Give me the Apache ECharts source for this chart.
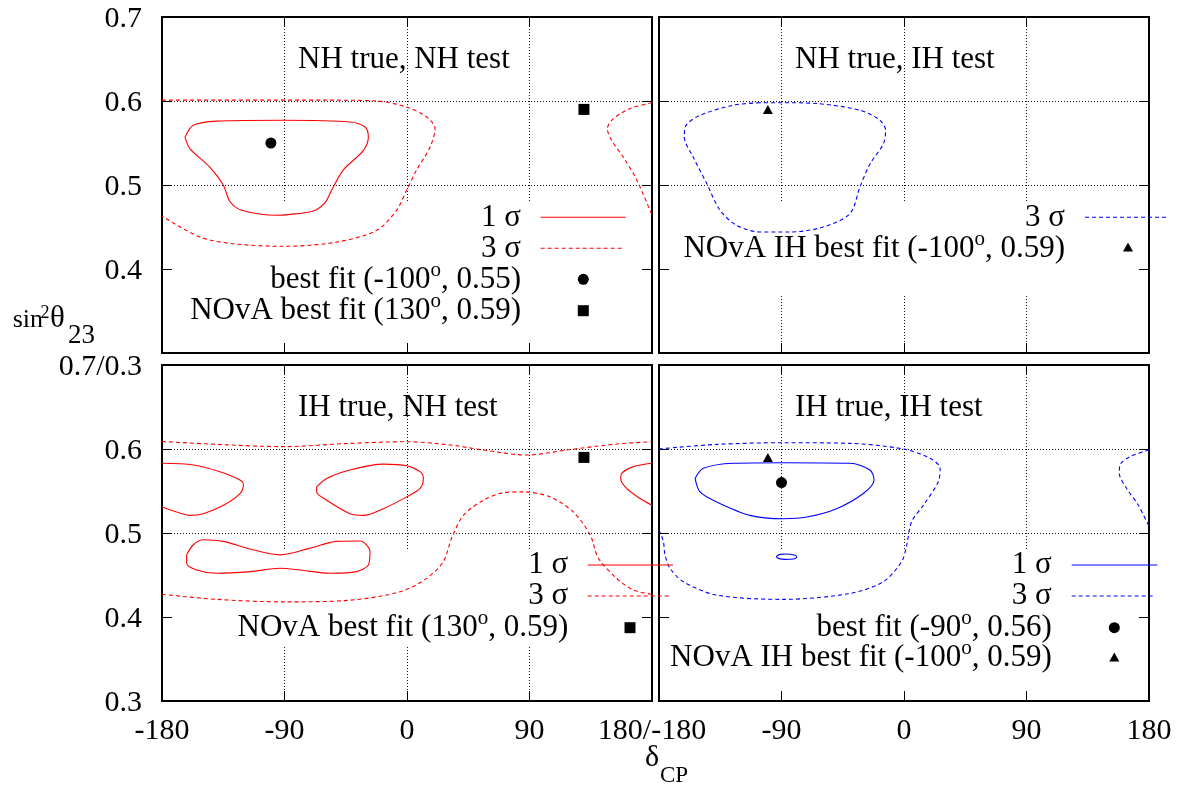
<!DOCTYPE html>
<html><head><meta charset="utf-8">
<script src="https://cdn.jsdelivr.net/npm/echarts@6/dist/echarts.min.js"></script>
<style>html,body{margin:0;padding:0;background:#fff}#c{width:1178px;height:786px}</style>
</head><body><div id="c"></div>
<script>
// ---------------- data ----------------
const xTicks = [-180, -90, 0, 90, 180];
const yTicks = [0.3, 0.4, 0.5, 0.6, 0.7];
const panelTitles = ['NH true, NH test', 'NH true, IH test', 'IH true, NH test', 'IH true, IH test'];

// NH true, NH test
const tl1sigma = [[-163.1,0.557],[-157,0.571],[-139.8,0.576],[-90.8,0.577],[-41.9,0.575],[-30.8,0.569],[-28.4,0.557],[-32.1,0.541],[-46.8,0.518],[-55.3,0.494],[-60.2,0.479],[-68.8,0.469],[-86,0.465],[-95.7,0.464],[-121.5,0.470],[-130,0.480],[-135,0.500],[-144.7,0.521],[-159.4,0.543],[-163.1,0.557]];
const tl3sigmaA = [[-180,0.601],[-140,0.601],[-100,0.601],[-60,0.601],[-22.3,0.600],[-0.7,0.593],[14.5,0.581],[20.6,0.567],[16.9,0.545],[7.1,0.518],[-0.2,0.494],[-7.6,0.470],[-22.3,0.446],[-51.7,0.432],[-90.8,0.427],[-127.6,0.430],[-152.1,0.438],[-180,0.463]];
const tl3sigmaB = [[180,0.598],[163.9,0.591],[151.6,0.579],[147.2,0.567],[150.4,0.553],[159,0.533],[168.8,0.506],[180,0.464]];
const tlBestFit = [[-100,0.55]];
const tlNova = [[130,0.59]];

// NH true, IH test
const tr3sigma = [[-105.8,0.598],[-125.4,0.595],[-149.9,0.583],[-160.1,0.571],[-161.4,0.557],[-154.8,0.533],[-145,0.502],[-135.2,0.470],[-122.9,0.452],[-105.8,0.444],[-83.7,0.444],[-59.3,0.450],[-39.7,0.466],[-32.3,0.498],[-25,0.525],[-15.2,0.549],[-13.5,0.565],[-17.6,0.577],[-32.3,0.589],[-64.2,0.597],[-88.6,0.598],[-105.8,0.598]];
const trNovaIH = [[-100,0.59]];

// IH true, NH test
const bl1sigmaA = [[-180,0.583],[-157,0.581],[-137.4,0.573],[-122.7,0.563],[-120.2,0.557],[-122.7,0.547],[-134.9,0.533],[-149.6,0.523],[-159.4,0.521],[-169.2,0.525],[-180,0.531]];
const bl1sigmaB = [[180,0.583],[166.3,0.579],[157.7,0.571],[157,0.565],[161.4,0.553],[171.2,0.541],[180,0.533]];
const bl1sigmaC = [[-66.4,0.555],[-59,0.565],[-41.9,0.575],[-17.4,0.582],[-0.2,0.580],[9.6,0.573],[12,0.565],[9.6,0.553],[-0.2,0.543],[-17.4,0.529],[-32.1,0.521],[-41.9,0.523],[-59,0.539],[-66.4,0.549],[-66.4,0.555]];
const bl1sigmaD = [[-161.9,0.474],[-157,0.486],[-149.6,0.492],[-134.9,0.490],[-115.3,0.481],[-93.3,0.474],[-71.2,0.482],[-51.7,0.490],[-34.5,0.4905],[-27.2,0.478],[-28.4,0.462],[-37,0.454],[-56.6,0.452],[-78.6,0.456],[-93.3,0.458],[-115.3,0.454],[-139.8,0.452],[-154.5,0.456],[-161.9,0.464],[-161.9,0.474]];
const bl3sigmaTop = [[-180,0.609],[-139.8,0.6055],[-90.8,0.6028],[-41.9,0.6067],[-0.2,0.6087],[31.6,0.6048],[56.1,0.5988],[87.9,0.5928],[117.3,0.5988],[154,0.6059],[180,0.6087]];
const bl3sigmaBot = [[-180,0.427],[-139.8,0.421],[-90.8,0.418],[-41.9,0.420],[-5.1,0.430],[14.5,0.446],[26.7,0.466],[32.8,0.494],[41.4,0.521],[56.1,0.539],[70.8,0.548],[85.5,0.549],[105.1,0.543],[122.2,0.525],[134.5,0.498],[140.6,0.470],[154,0.446],[166.3,0.432],[180,0.427]];
const blNova = [[130,0.59]];

// IH true, IH test
const br1sigma = [[-153.5,0.565],[-147.4,0.577],[-125.4,0.583],[-88.6,0.5837],[-39.7,0.583],[-25,0.575],[-22,0.563],[-29.9,0.547],[-49.5,0.529],[-71.5,0.519],[-88.6,0.517],[-113.1,0.521],[-137.6,0.537],[-149.9,0.549],[-153.5,0.565]];
const br1sigmaSmall = [[-94,0.4718],[-91.1,0.4746],[-86.2,0.475],[-80.1,0.4734],[-78.8,0.4714],[-81.3,0.469],[-87.4,0.4686],[-92.3,0.4698],[-94,0.4718]];
const br3sigmaA = [[-180,0.600],[-137.6,0.6055],[-88.6,0.6075],[-39.7,0.6067],[-0.5,0.600],[19.1,0.589],[26.5,0.577],[25.2,0.561],[14.2,0.533],[5.6,0.5135],[2,0.486],[-1.7,0.466],[-15.2,0.442],[-39.7,0.428],[-88.6,0.421],[-137.6,0.426],[-162.1,0.442],[-171.9,0.458],[-175.6,0.474],[-176.8,0.490],[-180,0.5036]];
const br3sigmaB = [[180,0.599],[166.1,0.591],[158.7,0.581],[158.2,0.571],[163.6,0.553],[172.2,0.533],[180,0.508]];
const brBestFit = [[-90,0.56]];
const brNovaIH = [[-100,0.59]];

// ---------------- layout ----------------
const FAM = 'Liberation Serif';
const FONT = '"Liberation Serif", serif';
const RED = '#ff0000', BLUE = '#0000ff';
const DASH = [4, 3];
const grids = [
  {left: 162, top: 17, width: 490, height: 336},
  {left: 659, top: 17, width: 490, height: 336},
  {left: 162, top: 365, width: 490, height: 336},
  {left: 659, top: 365, width: 490, height: 336}
];
const near = (a, b) => Math.abs(a - b) < 1e-6;
const tickRich = {t: {fontFamily: FAM, fontSize: 30, color: '#000', fill: '#000'}};

const xAxes = [], yAxes = [];
grids.forEach((g, i) => {
  const tick = {show: true, inside: true, length: 10, lineStyle: {color: '#000', width: 1}};
  const split = {show: true, showMinLine: false, showMaxLine: false, lineStyle: {color: '#111', width: 1, type: [1, 2]}};
  const noLine = {show: false, onZero: false};
  xAxes.push({
    gridIndex: i, type: 'value', min: xTicks[0], max: xTicks[xTicks.length - 1], interval: 90, position: 'bottom',
    axisLine: noLine, axisTick: tick, splitLine: split,
    axisLabel: {
      show: i >= 2, fontFamily: FAM, fontSize: 30, color: '#000', margin: 15, rich: tickRich,
      formatter: v => {
        let s = String(Math.round(v));
        if (i === 2 && near(v, 180)) s = '180/-180';
        if (i === 3 && near(v, -180)) return '';
        return '{t|' + s + '}';
      }
    }
  });
  xAxes.push({
    gridIndex: i, type: 'value', min: xTicks[0], max: xTicks[xTicks.length - 1], interval: 90, position: 'top',
    axisLine: noLine, axisTick: tick, splitLine: {show: false}, axisLabel: {show: false}
  });
  yAxes.push({
    gridIndex: i, type: 'value', min: yTicks[0], max: yTicks[yTicks.length - 1], interval: 0.1, position: 'left',
    axisLine: noLine, axisTick: tick, splitLine: split,
    axisLabel: {
      show: i % 2 === 0, fontFamily: FAM, fontSize: 30, color: '#000', margin: 20, padding: [5, 0, 0, 0], rich: tickRich,
      formatter: v => {
        let s = v.toFixed(1);
        if (i === 0 && near(v, 0.3)) return '';
        if (i === 2 && near(v, 0.7)) s = '0.7/0.3';
        return '{t|' + s + '}';
      }
    }
  });
  yAxes.push({
    gridIndex: i, type: 'value', min: yTicks[0], max: yTicks[yTicks.length - 1], interval: 0.1, position: 'right',
    axisLine: noLine, axisTick: tick, splitLine: {show: false}, axisLabel: {show: false}
  });
});

function contour(data, gi, color, dashed) {
  return {
    type: 'line', xAxisIndex: gi * 2, yAxisIndex: gi * 2, data: data, smooth: 0.3,
    showSymbol: false, symbol: 'none', silent: true, clip: true, z: 3,
    lineStyle: {color: color, width: 1.1, type: dashed ? DASH : 'solid'}
  };
}
function marker(data, gi, symbol, size) {
  return {
    type: 'scatter', xAxisIndex: gi * 2, yAxisIndex: gi * 2, data: data, symbol: symbol,
    symbolSize: size, silent: true, z: 4, itemStyle: {color: '#000', opacity: 1}
  };
}

const series = [
  contour(tl1sigma, 0, RED, false), contour(tl3sigmaA, 0, RED, true), contour(tl3sigmaB, 0, RED, true),
  marker(tlBestFit, 0, 'circle', 11), marker(tlNova, 0, 'rect', 11),
  contour(tr3sigma, 1, BLUE, true), marker(trNovaIH, 1, 'triangle', [10, 9]),
  contour(bl1sigmaA, 2, RED, false), contour(bl1sigmaB, 2, RED, false), contour(bl1sigmaC, 2, RED, false),
  contour(bl1sigmaD, 2, RED, false), contour(bl3sigmaTop, 2, RED, true), contour(bl3sigmaBot, 2, RED, true),
  marker(blNova, 2, 'rect', 11),
  contour(br1sigma, 3, BLUE, false), contour(br1sigmaSmall, 3, BLUE, false),
  contour(br3sigmaA, 3, BLUE, true), contour(br3sigmaB, 3, BLUE, true),
  marker(brBestFit, 3, 'circle', 11), marker(brNovaIH, 3, 'triangle', [10, 9])
];

// ---------------- graphic: titles, keys, axis names ----------------
const G = [];
function txt(x, y, text, size, align, lh) {
  G.push({
    type: 'text', x: x, y: y, z: 10, silent: true,
    style: {
      text: text, fill: '#000', font: size + 'px ' + FONT, fontSize: size, fontFamily: FONT,
      lineHeight: lh || size,
      align: align, textAlign: align, verticalAlign: 'middle', textVerticalAlign: 'middle',
      rich: {sup: {fontSize: 21, fontFamily: FONT, fill: '#000', verticalAlign: 'top', textVerticalAlign: 'top'}}
    }
  });
}
function keyLine(x1, x2, y, color, dashed) {
  G.push({type: 'line', z: 10, silent: true, shape: {x1: x1, y1: y, x2: x2, y2: y},
    style: {stroke: color, lineWidth: 1.1, lineDash: dashed ? DASH : null}});
}
function keySym(kind, cx, cy) {
  if (kind === 'circle') G.push({type: 'circle', z: 10, silent: true, shape: {cx: cx, cy: cy, r: 5.5}, style: {fill: '#000'}});
  else if (kind === 'rect') G.push({type: 'rect', z: 10, silent: true, shape: {x: cx - 5.5, y: cy - 5.5, width: 11, height: 11}, style: {fill: '#000'}});
  else G.push({type: 'polygon', z: 10, silent: true, shape: {points: [[cx, cy - 5], [cx - 5, cy + 4], [cx + 5, cy + 4]]}, style: {fill: '#000'}});
}
function keyBox(x, y, w, h) {
  G.push({type: 'rect', z: 1, silent: true, shape: {x: x, y: y, width: w, height: h}, style: {fill: '#fff'}});
}

// opaque key areas (hide grid lines, contours stay on top)
keyBox(173, 202, 468, 140);
keyBox(670, 202, 468, 93);
keyBox(173, 549, 468, 98);
keyBox(670, 549, 468, 141);

const KF = 31;   // key / title font size
const KLH = 40;  // line height used to lift superscripts
// panel titles
txt(298, 60, panelTitles[0], KF, 'left');
txt(795, 60, panelTitles[1], KF, 'left');
txt(298, 408, panelTitles[2], KF, 'left');
txt(795, 408, panelTitles[3], KF, 'left');

// key: NH true, NH test
txt(521, 217.5, '1 σ', KF, 'right'); keyLine(540.7, 625.7, 217.3, RED, false);
txt(521, 248.5, '3 σ', KF, 'right'); keyLine(540.7, 622, 248.3, RED, true);
txt(521, 279.5, 'best fit (-100{sup|o}, 0.55)', KF, 'right', KLH); keySym('circle', 583.3, 279.3);
txt(521, 311, 'NOvA best fit (130{sup|o}, 0.59)', KF, 'right', KLH); keySym('rect', 583.3, 310.7);

// key: NH true, IH test
txt(1065, 217.5, '3 σ', KF, 'right'); keyLine(1085, 1166, 217.3, BLUE, true);
txt(1065, 248.5, 'NOvA IH best fit (-100{sup|o}, 0.59)', KF, 'right', KLH); keySym('tri', 1128, 247.5);

// key: IH true, NH test
txt(568.3, 565, '1 σ', KF, 'right'); keyLine(587.7, 673, 565, RED, false);
txt(568.3, 596, '3 σ', KF, 'right'); keyLine(587.7, 670, 596, RED, true);
txt(568.3, 627.7, 'NOvA best fit (130{sup|o}, 0.59)', KF, 'right', KLH); keySym('rect', 630, 627.7);

// key: IH true, IH test
txt(1051.7, 565, '1 σ', KF, 'right'); keyLine(1071.7, 1157.3, 565, BLUE, false);
txt(1051.7, 596, '3 σ', KF, 'right'); keyLine(1071.7, 1153, 596, BLUE, true);
txt(1051.7, 627.7, 'best fit (-90{sup|o}, 0.56)', KF, 'right', KLH); keySym('circle', 1114.3, 627.7);
txt(1051.7, 658, 'NOvA IH best fit (-100{sup|o}, 0.59)', KF, 'right', KLH); keySym('tri', 1114.3, 657.5);

// axis names
txt(12.7, 320.5, 'sin', 26, 'left');
txt(40.5, 313, '2', 18, 'left');
txt(50, 318.5, 'θ', 31, 'left');
txt(68, 335.5, '23', 27, 'left');
txt(645, 758, 'δ', 30, 'left');
txt(660, 776, 'CP', 23, 'left');

const chart = echarts.init(document.getElementById('c'), null, {renderer: 'canvas'});
chart.setOption({
  animation: false,
  backgroundColor: '#fff',
  textStyle: {fontFamily: FAM},
  grid: grids.map(g => Object.assign({show: true, borderColor: '#000', borderWidth: 2, backgroundColor: 'transparent'}, g)),
  xAxis: xAxes,
  yAxis: yAxes,
  series: series,
  graphic: {elements: G}
});
</script></body></html>
